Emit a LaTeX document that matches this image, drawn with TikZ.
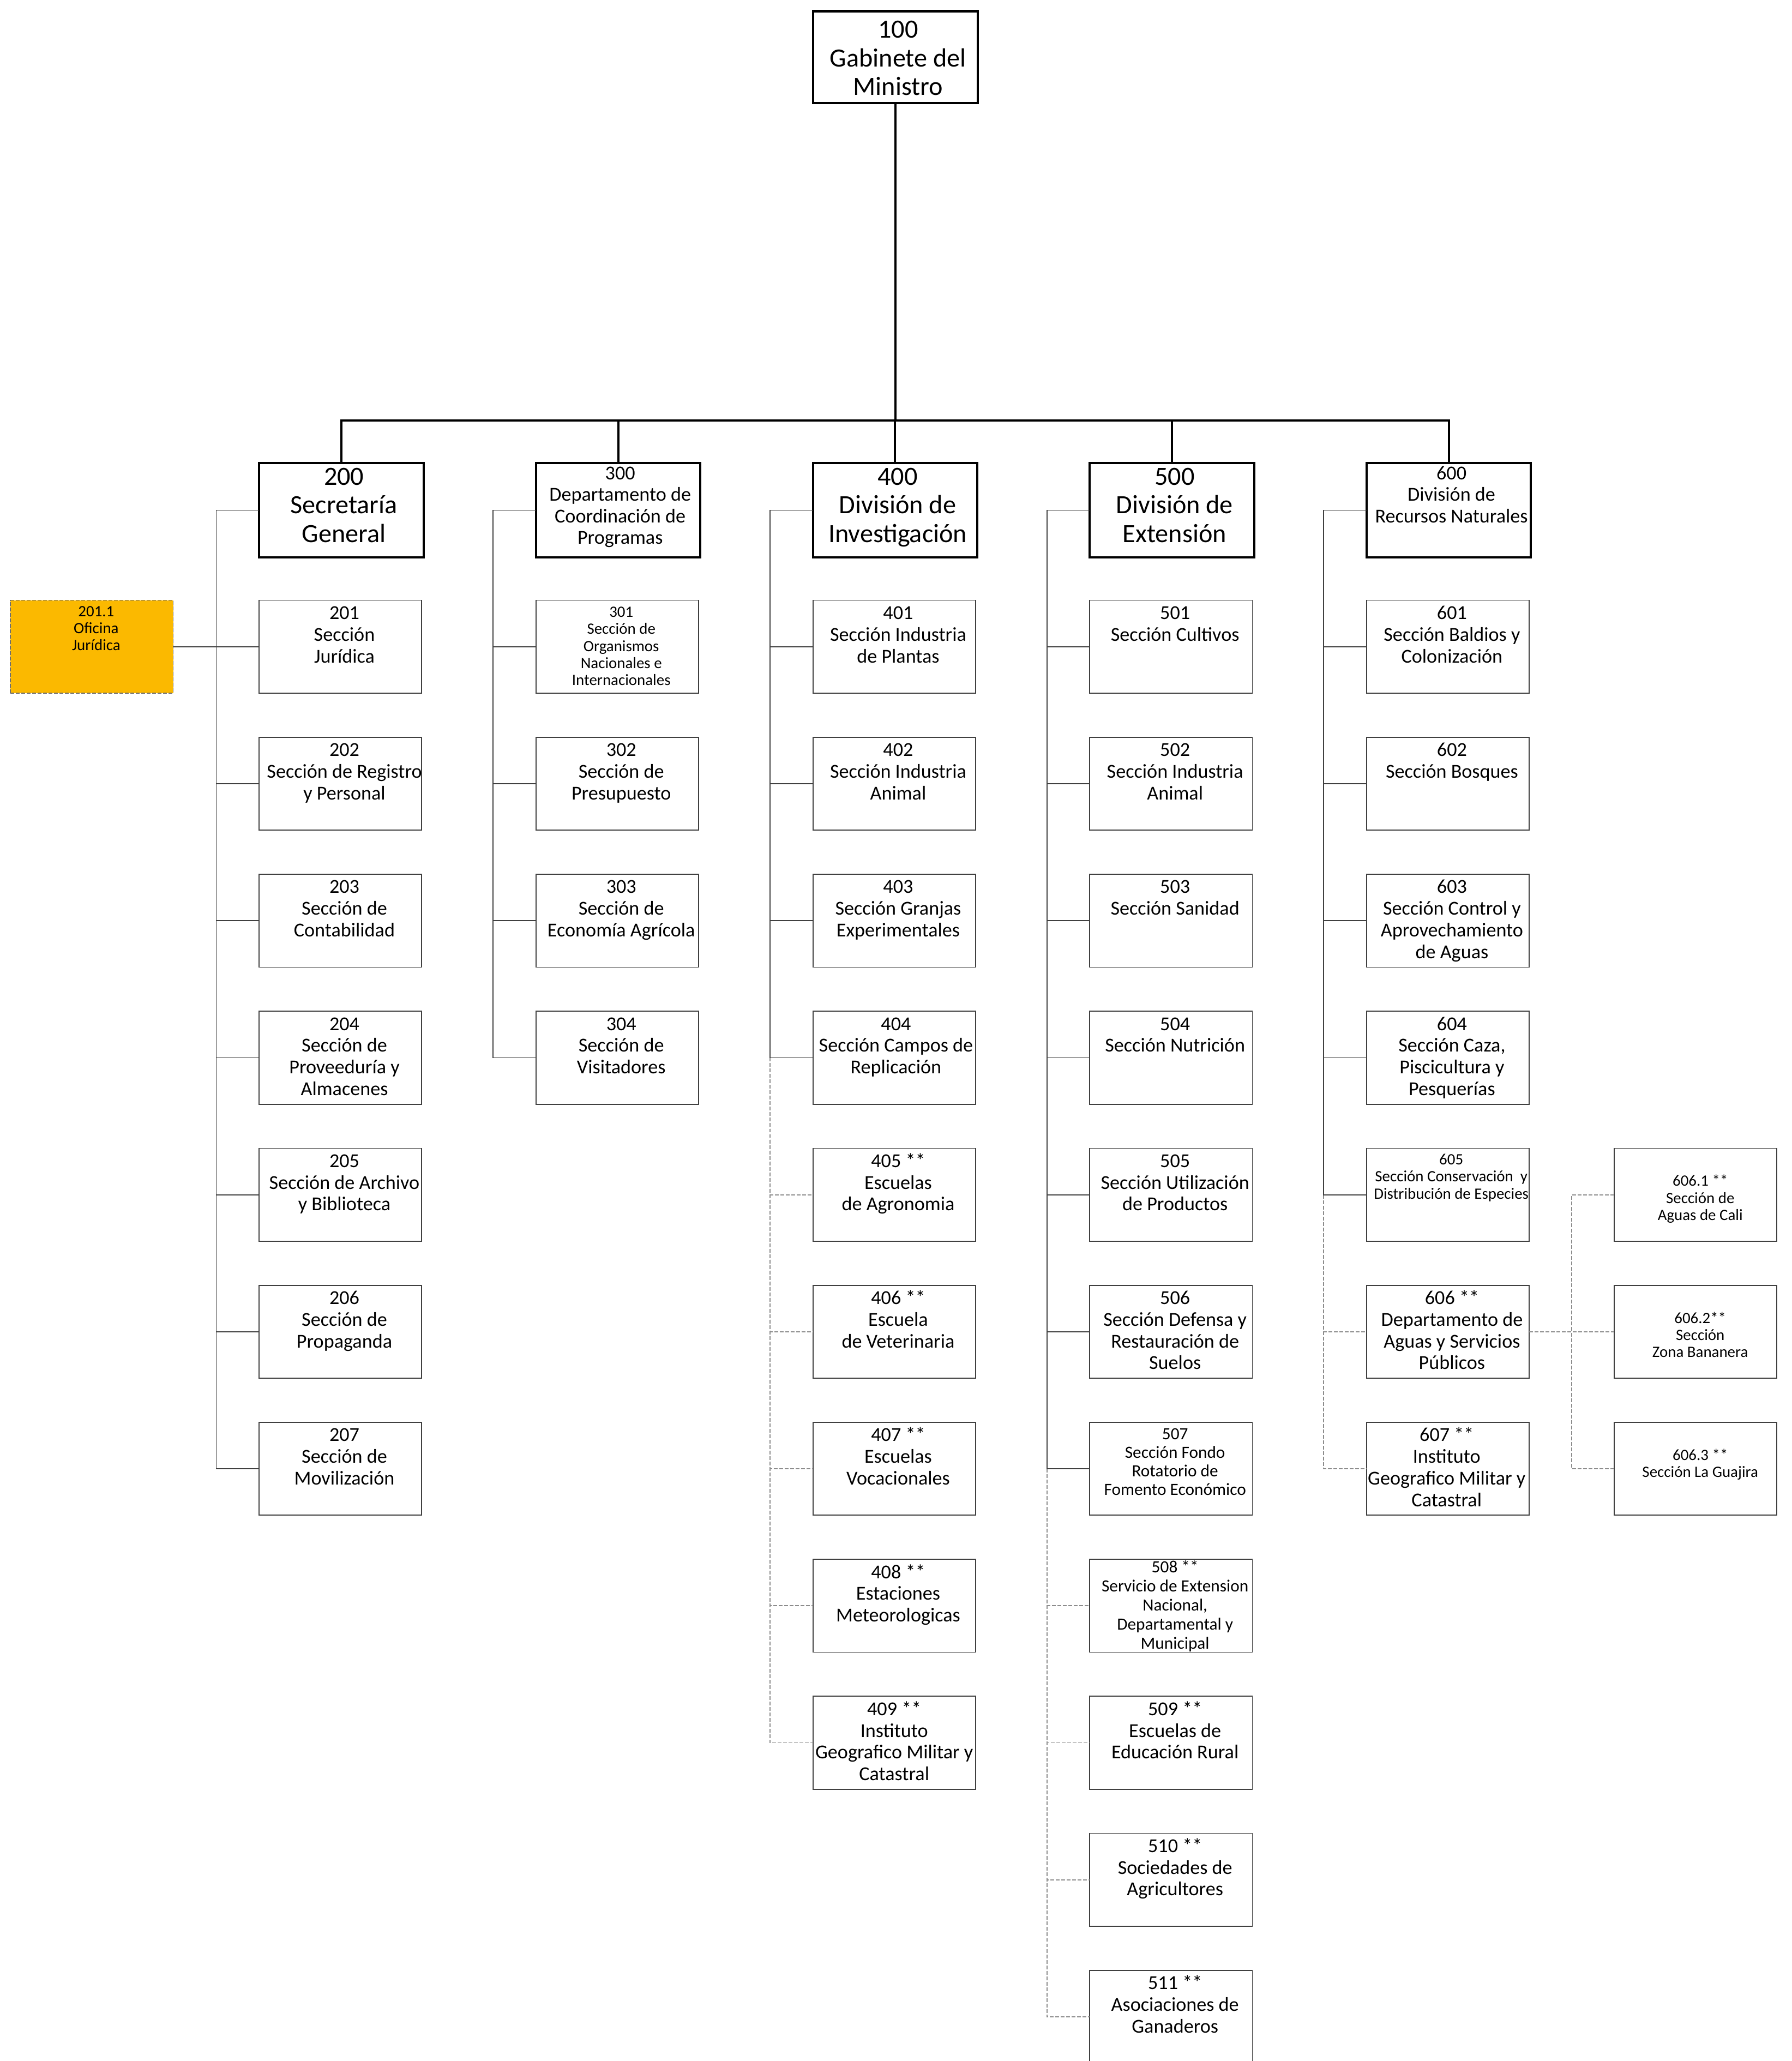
\documentclass[tikz,border=0pt]{standalone}
\usepackage{fontspec}
\setmainfont{Carlito}
\definecolor{lnc}{HTML}{404040}
\definecolor{dsc}{HTML}{8C8C8C}
\definecolor{gold}{HTML}{FBB900}
\definecolor{dbx}{HTML}{6E6E6E}
\newcommand\myBox[5][1.8pt]{\parbox[c][#3][t]{#2}{\rule{0pt}{#4}\makebox[#2]{\hspace*{#1}\hspace*{#1}\begin{tabular}[t]{@{}c@{}}#5\end{tabular}}}}
\newcommand\myL[2][1.8pt]{\myBox[#1]{74.22pt}{42.42pt}{8.7pt}{#2}}
\hfuzz=20pt \vfuzz=20pt
\tikzset{
  lthree/.style={draw=lnc, line width=0.45pt, inner sep=0pt, outer sep=0pt, anchor=north west, fill=white, font=\fontsize{9}{9.9}\selectfont},
  ltwo/.style={draw=black, line width=1pt, inner sep=0pt, outer sep=0pt, anchor=north west, fill=white},
  bigf/.style={font=\fontsize{12}{13.1}\selectfont},
  midf/.style={font=\fontsize{9}{9.8}\selectfont},
  smallf/.style={font=\fontsize{7.2}{7.8}\selectfont},
  conn/.style={draw=lnc, line width=0.45pt},
  dconn/.style={draw=dsc, line width=0.45pt, dash pattern=on 1.74pt off 0.75pt},
  topconn/.style={draw=black, line width=1pt},
}
\begin{document}
\begin{tikzpicture}[x=0.6pt, y=-0.6pt]
\fill[white] (0,0) rectangle (1363,1567.5);
\useasboundingbox (0,0) rectangle (1363,1567.5);

% top
\node[ltwo, bigf] (n100) at (618.6,8.5) {\myBox[1.2pt]{75pt}{42pt}{12.2pt}{100\\Gabinete del\\Ministro}};

% level 2
\node[ltwo, bigf] (p200) at (197.1,352) {\myBox[1.2pt]{75pt}{43.2pt}{10.1pt}{200\\Secretaría\\General}};
\node[ltwo, midf] (p300) at (407.7,352) {\myBox[0.9pt]{75pt}{43.2pt}{7.65pt}{300\\Departamento de\\Coordinación de\\Programas}};
\node[ltwo, bigf] (p400) at (618.3,352) {\myBox[1.2pt]{75pt}{43.2pt}{10.1pt}{400\\División de\\Investigación}};
\node[ltwo, bigf] (p500) at (828.9,352) {\myBox[1.2pt]{75pt}{43.2pt}{10.1pt}{500\\División de\\Extensión}};
\node[ltwo, midf] (p600) at (1039.5,352) {\myBox[1.2pt]{75pt}{43.2pt}{7.65pt}{600\\División de\\Recursos Naturales}};

% 201.1
\node[draw=dbx, fill=gold, line width=0.45pt, dash pattern=on 1.74pt off 0.75pt, inner sep=0pt, outer sep=0pt, anchor=north west, smallf] (n2011) at (8,456.5) {\myBox[2pt]{74.22pt}{42.42pt}{7.4pt}{201.1\\Oficina\\Jurídica}};

% column 200
\node[lthree] (n201) at (197.1,456.5) {\myL{201\\Sección\\Jurídica}};
\node[lthree] (n202) at (197.1,560.7) {\myL{202\\Sección de Registro\\y Personal}};
\node[lthree] (n203) at (197.1,664.9) {\myL{203\\Sección de\\Contabilidad}};
\node[lthree] (n204) at (197.1,769.1) {\myL{204\\Sección de\\Proveeduría y\\Almacenes}};
\node[lthree] (n205) at (197.1,873.3) {\myL{205\\Sección de Archivo\\y Biblioteca}};
\node[lthree] (n206) at (197.1,977.5) {\myL{206\\Sección de\\Propaganda}};
\node[lthree] (n207) at (197.1,1081.7) {\myL{207\\Sección de\\Movilización}};

% column 300
\node[lthree, smallf] (n301) at (407.7,456.5) {\myBox{74.22pt}{42.42pt}{7.7pt}{301\\Sección de\\Organismos\\Nacionales e\\Internacionales}};
\node[lthree] (n302) at (407.7,560.7) {\myL{302\\Sección de\\Presupuesto}};
\node[lthree] (n303) at (407.7,664.9) {\myL{303\\Sección de\\Economía Agrícola}};
\node[lthree] (n304) at (407.7,769.1) {\myL{304\\Sección de\\Visitadores}};

% column 400
\node[lthree] (n401) at (618.3,456.5) {\myL{401\\Sección Industria\\de Plantas}};
\node[lthree] (n402) at (618.3,560.7) {\myL{402\\Sección Industria\\Animal}};
\node[lthree] (n403) at (618.3,664.9) {\myL{403\\Sección Granjas\\Experimentales}};
\node[lthree] (n404) at (618.3,769.1) {\myL[0.8pt]{404\\Sección Campos de\\Replicación}};
\node[lthree] (n405) at (618.3,873.3) {\myL{405 **\\Escuelas\\de Agronomia}};
\node[lthree] (n406) at (618.3,977.5) {\myL{406 **\\Escuela\\de Veterinaria}};
\node[lthree] (n407) at (618.3,1081.7) {\myL{407 **\\Escuelas\\Vocacionales}};
\node[lthree] (n408) at (618.3,1185.9) {\myL{408 **\\Estaciones\\Meteorologicas}};
\node[lthree] (n409) at (618.3,1290.1) {\myL[0pt]{409 **\\Instituto\\Geografico Militar y\\Catastral}};

% column 500
\node[lthree] (n501) at (828.9,456.5) {\myL{501\\Sección Cultivos}};
\node[lthree] (n502) at (828.9,560.7) {\myL{502\\Sección Industria\\Animal}};
\node[lthree] (n503) at (828.9,664.9) {\myL{503\\Sección Sanidad}};
\node[lthree] (n504) at (828.9,769.1) {\myL{504\\Sección Nutrición}};
\node[lthree] (n505) at (828.9,873.3) {\myL{505\\Sección Utilización\\de Productos}};
\node[lthree] (n506) at (828.9,977.5) {\myL{506\\Sección Defensa y\\Restauración de\\Suelos}};
\node[lthree, font=\fontsize{7.8}{8.4}\selectfont] (n507) at (828.9,1081.7) {\myBox{74.22pt}{42.42pt}{8pt}{507\\Sección Fondo\\Rotatorio de\\Fomento Económico}};
\node[lthree, font=\fontsize{7.8}{8.7}\selectfont] (n508) at (828.9,1185.9) {\myBox{74.22pt}{42.42pt}{6.1pt}{508 **\\Servicio de Extension\\Nacional,\\Departamental y\\Municipal}};
\node[lthree] (n509) at (828.9,1290.1) {\myL{509 **\\Escuelas de\\Educación Rural}};
\node[lthree] (n510) at (828.9,1394.3) {\myL{510 **\\Sociedades de\\Agricultores}};
\node[lthree] (n511) at (828.9,1498.5) {\myL{511 **\\Asociaciones de\\Ganaderos}};

% column 600
\node[lthree] (n601) at (1039.5,456.5) {\myL{601\\Sección Baldios y\\Colonización}};
\node[lthree] (n602) at (1039.5,560.7) {\myL{602\\Sección Bosques}};
\node[lthree] (n603) at (1039.5,664.9) {\myL{603\\Sección Control y\\Aprovechamiento\\de Aguas}};
\node[lthree] (n604) at (1039.5,769.1) {\myL{604\\Sección Caza,\\Piscicultura y\\Pesquerías}};
\node[lthree, smallf] (n605) at (1039.5,873.3) {\myBox[1.5pt]{74.22pt}{42.42pt}{7.5pt}{605\\Sección Conservación\ \ y\\Distribución de Especies}};
\node[lthree] (n606) at (1039.5,977.5) {\myL{606 **\\Departamento de\\Aguas y Servicios\\Públicos}};
\node[lthree] (n607) at (1039.5,1081.7) {\myL[-0.6pt]{607 **\\Instituto\\Geografico Militar y\\Catastral}};

% column 606.x
\node[lthree, smallf] (n6061) at (1227.7,873.3) {\myBox[2.2pt]{74.22pt}{42.42pt}{17.3pt}{606.1 **\\Sección de\\Aguas de Cali}};
\node[lthree, smallf] (n6062) at (1227.7,977.5) {\myBox[2.2pt]{74.22pt}{42.42pt}{17.3pt}{606.2**\\Sección\\Zona Bananera}};
\node[lthree, smallf] (n6063) at (1227.7,1081.7) {\myBox[2.2pt]{74.22pt}{42.42pt}{17.3pt}{606.3 **\\Sección La Guajira}};

% spine coordinates
\coordinate (s200) at ([xshift=-19.6pt]p200.west);
\coordinate (s300) at ([xshift=-19.6pt]p300.west);
\coordinate (s400) at ([xshift=-19.6pt]p400.west);
\coordinate (s500) at ([xshift=-19.6pt]p500.west);
\coordinate (s600) at ([xshift=-19.6pt]p600.west);
\coordinate (s606) at ([xshift=19.4pt]n606.east);

% top connectors
\foreach \i in {200,300,400,500,600}
  \draw[topconn] (n100.south) -- ++(0,241.3) -| (p\i.north);

% dashed connectors
\foreach \i in {405,406,407,408,409}
  \draw[dconn] (s400 |- n404.west) |- (n\i.west);
\foreach \i in {508,509,510,511}
  \draw[dconn] (s500 |- n507.west) |- (n\i.west);
\foreach \i in {606,607}
  \draw[dconn] (s600 |- n605.west) |- (n\i.west);
\foreach \i in {6061,6062,6063}
  \draw[dconn] (n606.east) -- (s606) |- (n\i.west);

% solid connectors
\foreach \i in {201,202,203,204,205,206,207}
  \draw[conn] (p200.west) -- (s200) |- (n\i.west);
\foreach \i in {301,302,303,304}
  \draw[conn] (p300.west) -- (s300) |- (n\i.west);
\foreach \i in {401,402,403,404}
  \draw[conn] (p400.west) -- (s400) |- (n\i.west);
\foreach \i in {501,502,503,504,505,506,507}
  \draw[conn] (p500.west) -- (s500) |- (n\i.west);
\foreach \i in {601,602,603,604,605}
  \draw[conn] (p600.west) -- (s600) |- (n\i.west);
\draw[conn] (n2011.east) -- (n2011.east -| s200);
\end{tikzpicture}
\end{document}
